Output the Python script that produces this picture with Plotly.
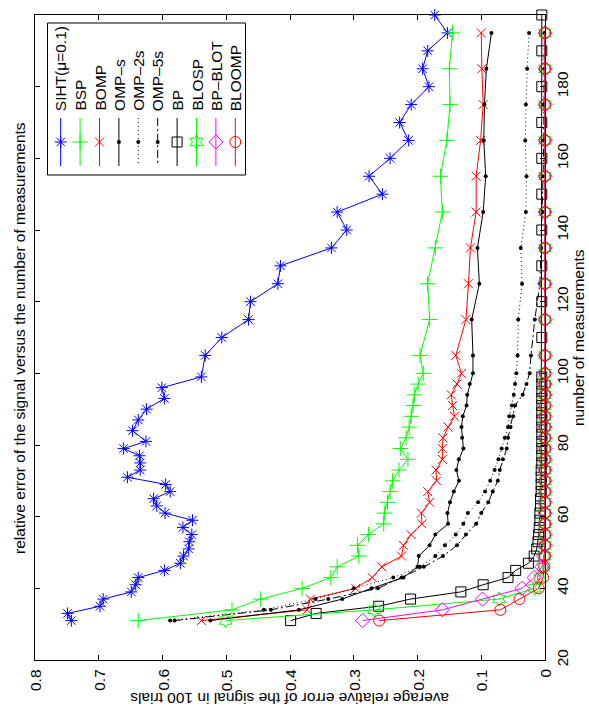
import plotly.graph_objects as go

# ---------------- data ----------------
m_siht = [31, 33, 35, 37, 39, 41, 43, 45, 47, 49, 51, 53, 55, 57, 59, 61, 63, 65, 67, 69,
          71, 73, 75, 77, 79, 81, 84, 87, 90, 93, 96, 99,
          105, 110, 115, 120, 125, 130, 135, 140, 145, 150, 155, 160, 165, 170, 175, 180,
          185, 190, 195, 200]
err_siht = [0.743, 0.749, 0.698, 0.693, 0.649, 0.642, 0.638, 0.597, 0.572, 0.567, 0.559,
            0.558, 0.554, 0.568, 0.553, 0.596, 0.609, 0.614, 0.588, 0.595,
            0.655, 0.635, 0.635, 0.636, 0.661, 0.626, 0.647, 0.638, 0.625, 0.597, 0.601, 0.539,
            0.533, 0.507, 0.465, 0.462, 0.419, 0.415, 0.335, 0.311, 0.326, 0.255, 0.276,
            0.243, 0.214, 0.228, 0.210, 0.182, 0.192, 0.184, 0.153, 0.173]

m_grid = [31, 34, 37, 40, 43, 46, 49, 52, 55, 58, 61, 64, 67, 70, 73, 76, 79, 82, 85, 88,
          91, 94, 97, 100, 105, 115, 125, 135, 145, 155, 165, 175, 185, 195]
err_bsp = [0.638, 0.491, 0.446, 0.381, 0.336, 0.326, 0.292, 0.294, 0.277, 0.253, 0.252,
           0.247, 0.243, 0.239, 0.229, 0.215, 0.227, 0.218, 0.213, 0.210, 0.207, 0.205,
           0.199, 0.191, 0.196, 0.181, 0.184, 0.172, 0.161, 0.164, 0.154, 0.149, 0.150, 0.145]
err_bomp = [0.539, 0.373, 0.368, 0.297, 0.271, 0.256, 0.225, 0.222, 0.210, 0.193, 0.194,
            0.181, 0.184, 0.170, 0.171, 0.161, 0.161, 0.160, 0.152, 0.142, 0.145, 0.147,
            0.138, 0.131, 0.140, 0.124, 0.120, 0.117, 0.108, 0.108, 0.101, 0.097, 0.099, 0.100]
err_omps = [0.525, 0.386, 0.318, 0.272, 0.222, 0.200, 0.198, 0.181, 0.172, 0.152, 0.153,
            0.149, 0.143, 0.135, 0.139, 0.135, 0.128, 0.130, 0.131, 0.129, 0.123, 0.122,
            0.118, 0.113, 0.113, 0.115, 0.103, 0.106, 0.097, 0.093, 0.096, 0.095, 0.092, 0.084]
err_omp2s = [0.588, 0.441, 0.360, 0.300, 0.238, 0.196, 0.172, 0.157, 0.140, 0.128, 0.121,
             0.105, 0.094, 0.086, 0.079, 0.073, 0.068, 0.063, 0.058, 0.056, 0.052, 0.049,
             0.047, 0.045, 0.043, 0.042, 0.036, 0.038, 0.030, 0.029, 0.031, 0.030, 0.028, 0.025]
err_omp5s = [0.581, 0.430, 0.340, 0.262, 0.225, 0.190, 0.160, 0.138, 0.124, 0.108, 0.100,
             0.089, 0.082, 0.074, 0.071, 0.066, 0.060, 0.058, 0.054, 0.050, 0.047, 0.035,
             0.029, 0.024, 0.022, 0.016, 0.008, 0.006, 0.004, 0.003, 0.002, 0.002, 0.001, 0.001]
err_blosp = [0.501, 0.268, 0.072, 0.016, 0.008, 0.003, 0.001, 0.0, 0.0, 0.0, 0.0, 0.0, 0.0,
             0.0, 0.0, 0.0, 0.0, 0.0, 0.0, 0.0, 0.0, 0.0, 0.0, 0.0, 0.0, 0.0, 0.0, 0.0, 0.0,
             0.0, 0.0, 0.0, 0.0, 0.0]
err_bpblot = [0.286, 0.161, 0.098, 0.036, 0.017, 0.005, 0.002, 0.0, 0.0, 0.0, 0.0, 0.0, 0.0,
              0.0, 0.0, 0.0, 0.0, 0.0, 0.0, 0.0, 0.0, 0.0, 0.0, 0.0, 0.0, 0.0, 0.0, 0.0, 0.0,
              0.0, 0.0, 0.0, 0.0, 0.0]
err_bloomp = [0.260, 0.070, 0.040, 0.010, 0.003, 0.001, 0.0, 0.0, 0.0, 0.0, 0.0, 0.0, 0.0,
              0.0, 0.0, 0.0, 0.0, 0.0, 0.0, 0.0, 0.0, 0.0, 0.0, 0.0, 0.0, 0.0, 0.0, 0.0, 0.0,
              0.0, 0.0, 0.0, 0.0, 0.0]

m_bp = [31, 33, 35, 37, 39, 41, 43, 45, 47, 49, 51, 53, 55, 57, 59, 61, 63, 65, 67, 69,
        71, 73, 75, 77, 79, 81, 83, 85, 87, 89, 91, 93, 95, 97, 99,
        110, 120, 130, 140, 150, 160, 170, 180, 190, 200]
err_bp = [0.399, 0.359, 0.261, 0.211, 0.132, 0.097, 0.058, 0.046, 0.026, 0.017, 0.013,
          0.011, 0.010, 0.009, 0.008, 0.008, 0.007, 0.007, 0.006, 0.006, 0.006, 0.006,
          0.005, 0.005, 0.005, 0.005, 0.005, 0.005, 0.005, 0.005, 0.005, 0.005, 0.005,
          0.005, 0.005, 0.005, 0.005, 0.005, 0.005, 0.005, 0.005, 0.005, 0.005, 0.005, 0.005]

names = ["SIHT(μ=0.1)", "BSP", "BOMP", "OMP–s", "OMP–2s", "OMP–5s", "BP", "BLOSP",
         "BP–BLOT", "BLOOMP"]
xs = [m_siht, m_grid, m_grid, m_grid, m_grid, m_grid, m_bp, m_grid, m_grid, m_grid]
ys = [err_siht, err_bsp, err_bomp, err_omps, err_omp2s, err_omp5s, err_bp, err_blosp,
      err_bpblot, err_bloomp]

x_ticks = [0, 0.1, 0.2, 0.3, 0.4, 0.5, 0.6, 0.7, 0.8]
x_tick_text = ["0", "0.1", "0.2", "0.3", "0.4", "0.5", "0.6", "0.7", "0.8"]
y_ticks = [20, 40, 60, 80, 100, 120, 140, 160, 180, 200]

# ---------------- styles ----------------
styles = [
    dict(color="#0000ff", dash="solid", symbol="asterisk-open", size=10, filled=False),
    dict(color="#00ff00", dash="solid", symbol="cross-thin-open", size=11, filled=False),
    dict(color="#ff0000", dash="solid", symbol="x-thin-open", size=9, filled=False),
    dict(color="#000000", dash="solid", symbol="circle", size=4, filled=True),
    dict(color="#000000", dash="1px,3px", symbol="circle", size=4, filled=True),
    dict(color="#000000", dash="8px,3px,2px,3px", symbol="circle", size=4, filled=True),
    dict(color="#000000", dash="solid", symbol="square-open", size=10, filled=False),
    dict(color="#00ff00", dash="solid", symbol="hexagram-open", size=11, filled=False),
    dict(color="#ff00ff", dash="solid", symbol="diamond-open", size=11, filled=False),
    dict(color="#ff0000", dash="solid", symbol="circle-open", size=11, filled=False),
]

FONT = "Liberation Sans, Arial, Helvetica, sans-serif"
FS = 15.5

# plot area in pixels
L, R, T, B = 35, 545, 15, 660
PW, PH = R - L, B - T


def marker_of(st):
    if st["filled"]:
        return dict(symbol=st["symbol"], size=st["size"], color=st["color"],
                    line=dict(width=0))
    return dict(symbol=st["symbol"], size=st["size"], color=st["color"],
                line=dict(width=1, color=st["color"]))


fig = go.Figure()
for name, mx, ey, st in zip(names, xs, ys, styles):
    fig.add_trace(go.Scatter(
        x=ey, y=mx, mode="lines+markers", name=name, showlegend=False,
        line=dict(color=st["color"], width=1, dash=st["dash"]),
        marker=marker_of(st), cliponaxis=False, xaxis="x", yaxis="y"))

# ---------------- custom rotated legend (pixel coords on overlay axes) ----------------
leg_x0, leg_dx = 60.7, 19.4
annotations = []
for i, (name, st) in enumerate(zip(names, styles)):
    xc = leg_x0 + leg_dx * i
    fig.add_trace(go.Scatter(
        x=[xc, xc], y=[118, 166], mode="lines", showlegend=False, hoverinfo="skip",
        line=dict(color=st["color"], width=1, dash=st["dash"]),
        xaxis="x2", yaxis="y2"))
    fig.add_trace(go.Scatter(
        x=[xc], y=[142], mode="markers", showlegend=False, hoverinfo="skip",
        marker=marker_of(st), xaxis="x2", yaxis="y2"))
    annotations.append(dict(
        text=name, x=xc, y=113, xref="x2", yref="y2", textangle=-90,
        xanchor="center", yanchor="bottom", showarrow=False,
        font=dict(family=FONT, size=FS, color="black")))

shapes = [dict(type="rect", xref="x2", yref="y2", x0=47.5, x1=245.5, y0=23, y1=175,
               line=dict(color="black", width=1), fillcolor="white", layer="below")]

# rotated x tick labels (placed at the tick values through the x scale)
for v, t in zip(x_ticks, x_tick_text):
    annotations.append(dict(
        text=t, x=v, xref="x", y=-7 / PH, yref="paper", textangle=-90,
        xanchor="center", yanchor="top", showarrow=False,
        font=dict(family=FONT, size=FS, color="black")))

# titles (rotated)
annotations.append(dict(
    text="relative error of the signal versus the number of measurements",
    xref="paper", yref="paper", x=(19 - L) / PW, y=(B - 338) / PH,
    textangle=-90, showarrow=False, xanchor="center", yanchor="middle",
    font=dict(family=FONT, size=FS, color="black")))
annotations.append(dict(
    text="average relative error of the signal in 100 trials",
    xref="paper", yref="paper", x=(290 - L) / PW, y=(B - 699) / PH,
    textangle=180, showarrow=False, xanchor="center", yanchor="middle",
    font=dict(family=FONT, size=FS, color="black")))
annotations.append(dict(
    text="number of measurements",
    xref="paper", yref="paper", x=(578 - L) / PW, y=(B - 338) / PH,
    textangle=-90, showarrow=False, xanchor="center", yanchor="middle",
    font=dict(family=FONT, size=FS, color="black")))

axis_common = dict(showline=True, linecolor="black", linewidth=1, mirror="ticks",
                   ticks="inside", ticklen=5, tickwidth=1, tickcolor="black",
                   showgrid=False, zeroline=False,
                   tickfont=dict(family=FONT, size=FS, color="black"))

fig.update_layout(
    width=589, height=725,
    margin=dict(l=L, r=589 - R, t=T, b=725 - B, pad=0),
    paper_bgcolor="white", plot_bgcolor="white",
    showlegend=False,
    xaxis=dict(range=[0.8, 0], tickvals=x_ticks, showticklabels=False, **axis_common),
    yaxis=dict(range=[20, 200], tickvals=y_ticks, side="right", tickangle=-90,
               ticklabelstandoff=3, **axis_common),
    xaxis2=dict(range=[L, R], overlaying="x", anchor="y2", visible=False,
                fixedrange=True),
    yaxis2=dict(range=[B, T], overlaying="y", anchor="x2", visible=False,
                fixedrange=True),
    shapes=shapes,
    annotations=annotations,
)

fig.write_html("out.html")
